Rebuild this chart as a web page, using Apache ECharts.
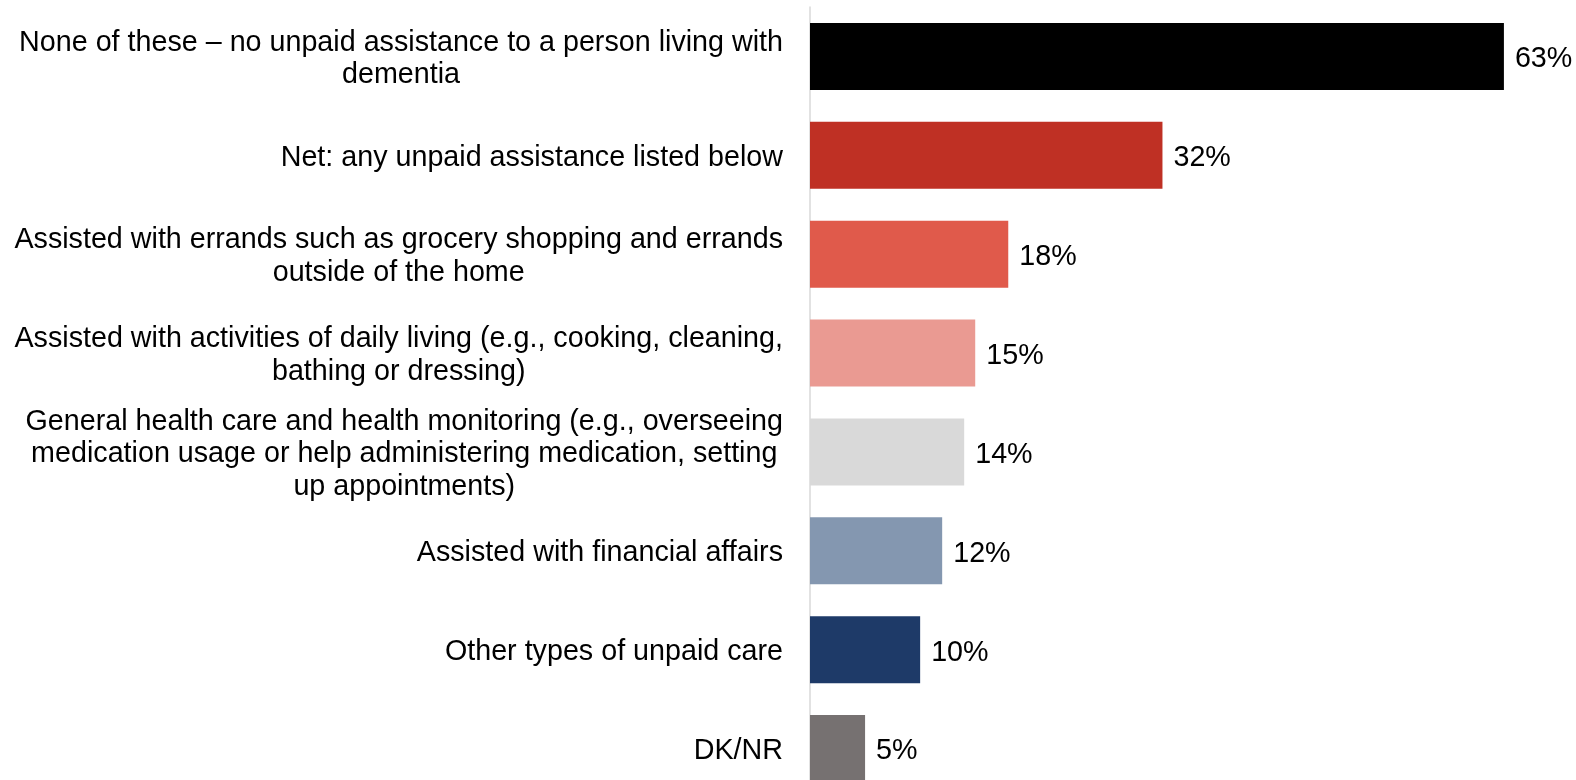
<!DOCTYPE html>
<html>
<head>
<meta charset="utf-8">
<style>
  html, body { margin: 0; padding: 0; background: #ffffff; }
  #chart { width: 1576px; height: 780px; }
</style>
<script src="https://cdn.jsdelivr.net/npm/echarts@6/dist/echarts.min.js"></script>
</head>
<body>
<div id="chart"></div>
<script>
// Response categories (line breaks as they wrap on the axis)
const categories = [
  'None of these – no unpaid assistance to a person living with\ndementia',
  'Net: any unpaid assistance listed below',
  'Assisted with errands such as grocery shopping and errands\noutside of the home',
  'Assisted with activities of daily living (e.g., cooking, cleaning,\nbathing or dressing)',
  'General health care and health monitoring (e.g., overseeing\nmedication usage or help administering medication, setting\nup appointments)',
  'Assisted with financial affairs',
  'Other types of unpaid care',
  'DK/NR'
];

// Share of respondents, percent
const values = [63, 32, 18, 15, 14, 12, 10, 5];

// Bar fill per category
const barColors = ['#000000', '#BF3024', '#E05A4B', '#EA9A92', '#D9D9D9', '#8497B0', '#1E3A68', '#767171'];

const FONT = '"Liberation Sans", Arial, sans-serif';
const FONT_SIZE = 28.7;

const chart = echarts.init(document.getElementById('chart'), null, { renderer: 'canvas' });

chart.setOption({
  animation: false,
  backgroundColor: '#ffffff',
  grid: {
    left: 810, top: 7, width: 760, height: 791,
    containLabel: false,
    outerBoundsMode: 'none'
  },
  xAxis: {
    type: 'value',
    min: 0,
    max: 69,
    show: false
  },
  yAxis: {
    type: 'category',
    data: categories,
    inverse: true,
    axisLine: { show: true, lineStyle: { color: '#D9D9D9', width: 1.5 } },
    axisTick: { show: false },
    splitLine: { show: false },
    axisLabel: {
      margin: 27,
      align: 'right',
      padding: [5, 0, 0, 0],
      fontFamily: FONT,
      fontSize: FONT_SIZE,
      color: '#000000',
      formatter: function (v) {
        return v.split('\n').map(function (line) { return '{c|' + line + '}'; }).join('\n');
      },
      rich: {
        c: { align: 'center', fontFamily: FONT, fontSize: FONT_SIZE, lineHeight: 32.5, color: '#000000' }
      }
    }
  },
  series: [{
    type: 'bar',
    barWidth: 67,
    data: values.map(function (v, i) {
      return { value: v, itemStyle: { color: barColors[i] } };
    }),
    label: {
      show: true,
      position: 'right',
      distance: 11,
      offset: [0, 3],
      fontFamily: FONT,
      fontSize: FONT_SIZE,
      color: '#000000',
      formatter: function (p) { return p.value + '%'; }
    }
  }]
});
</script>
</body>
</html>
